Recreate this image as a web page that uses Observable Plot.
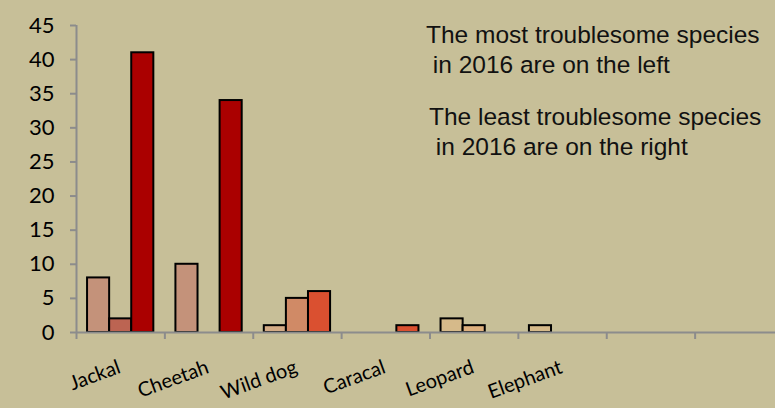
<!DOCTYPE html>
<html>
<head>
<meta charset="utf-8">
<script src="https://cdn.jsdelivr.net/npm/d3@7"></script>
<script src="https://cdn.jsdelivr.net/npm/@observablehq/plot@0.6"></script>
<style>
  html, body { margin: 0; padding: 0; background: #C7BF98; }
  svg text { white-space: pre; }
</style>
</head>
<body>
<div id="chart"></div>
<script>
// ---- data ----
const categories = ["Jackal", "Cheetah", "Wild dog", "Caracal", "Leopard", "Elephant", "", ""];
const series1 = [8, 10, 1, 0, 2, 1, 0, 0];
const series2 = [2, 0, 5, 0, 1, 0, 0, 0];
const series3 = [41, 34, 6, 1, 0, 0, 0, 0];
const yTicks = [0, 5, 10, 15, 20, 25, 30, 35, 40, 45];
const noteTop = "The most troublesome species\n in 2016 are on the left";
const noteBottom = "The least troublesome species\n in 2016 are on the right";

// ---- colours (per series, per category) ----
const colors1 = ["#C4927A", "#C4927A", "#D4AC86", "#D4AC86", "#D6BA8A", "#D6BA8A", "#D6BA8A", "#D6BA8A"];
const colors2 = ["#BC6452", "#BC6452", "#D08A66", "#D08A66", "#DEB07E", "#DEB07E", "#DEB07E", "#DEB07E"];
const colors3 = ["#AA0000", "#AA0000", "#DA5030", "#DA5030", "#DA5030", "#DA5030", "#DA5030", "#DA5030"];

const allSeries = [series1, series2, series3];
const allColors = [colors1, colors2, colors3];
const bars = [];
allSeries.forEach((vals, s) => vals.forEach((v, i) => {
  if (v > 0) bars.push({i, s, value: v, color: allColors[s][i]});
}));
const labels = categories.map((name, i) => ({i, name}));
const boundaries = d3.range(categories.length + 1);

const font = "Lato, 'Open Sans', sans-serif";
const noteFont = "'Liberation Sans', Arial, sans-serif";

const chart = Plot.plot({
  width: 775,
  height: 408,
  marginLeft: 76,
  marginTop: 25,
  marginBottom: 76,
  marginRight: 0,
  style: {background: "#C7BF98", color: "#000", fontFamily: font, overflow: "visible"},
  x: {type: "linear", domain: [0, categories.length], range: [76, 783], axis: null},
  y: {domain: [0, 45], range: [332, 25], axis: null},
  color: {type: "identity"},
  marks: [
    Plot.rect(bars, {
      x1: d => d.i + (0.5 + d.s) / 4,
      x2: d => d.i + (1.5 + d.s) / 4,
      y1: 0,
      y2: "value",
      fill: "color",
      stroke: "#000",
      strokeWidth: 2
    }),
    Plot.ruleY([0], {x1: 0, x2: categories.length, stroke: "#8C8C8C", strokeWidth: 2}),
    Plot.ruleX([0], {y1: 0, y2: 45, stroke: "#8C8C8C", strokeWidth: 2}),
    Plot.axisY({ticks: yTicks, tickSize: 6, tickPadding: 16, stroke: "#8C8C8C", strokeWidth: 2,
      fill: "#000", fontSize: 22, fontFamily: font, label: null}),
    Plot.axisX({ticks: boundaries, tickSize: 7, tickFormat: () => "", stroke: "#8C8C8C", strokeWidth: 2, label: null}),
    Plot.text(labels, {
      x: d => d.i + 0.5, y: 0, text: "name",
      rotate: -20, textAnchor: "end", lineAnchor: "bottom", dy: 40, dx: 1,
      fontSize: 20, fontFamily: font, fill: "#000"
    }),
    Plot.text([noteTop], {
      x: 4, y: 45, text: d => d, textAnchor: "start", lineAnchor: "top",
      dx: -4, dy: -4, lineHeight: 1.24,
      fontSize: 24.5, fontFamily: noteFont, fill: "#111"
    }),
    Plot.text([noteBottom], {
      x: 4, y: 45, text: d => d, textAnchor: "start", lineAnchor: "top",
      dx: -1, dy: 78, lineHeight: 1.24,
      fontSize: 24.5, fontFamily: noteFont, fill: "#111"
    })
  ]
});
document.getElementById("chart").appendChild(chart);
</script>
</body>
</html>
